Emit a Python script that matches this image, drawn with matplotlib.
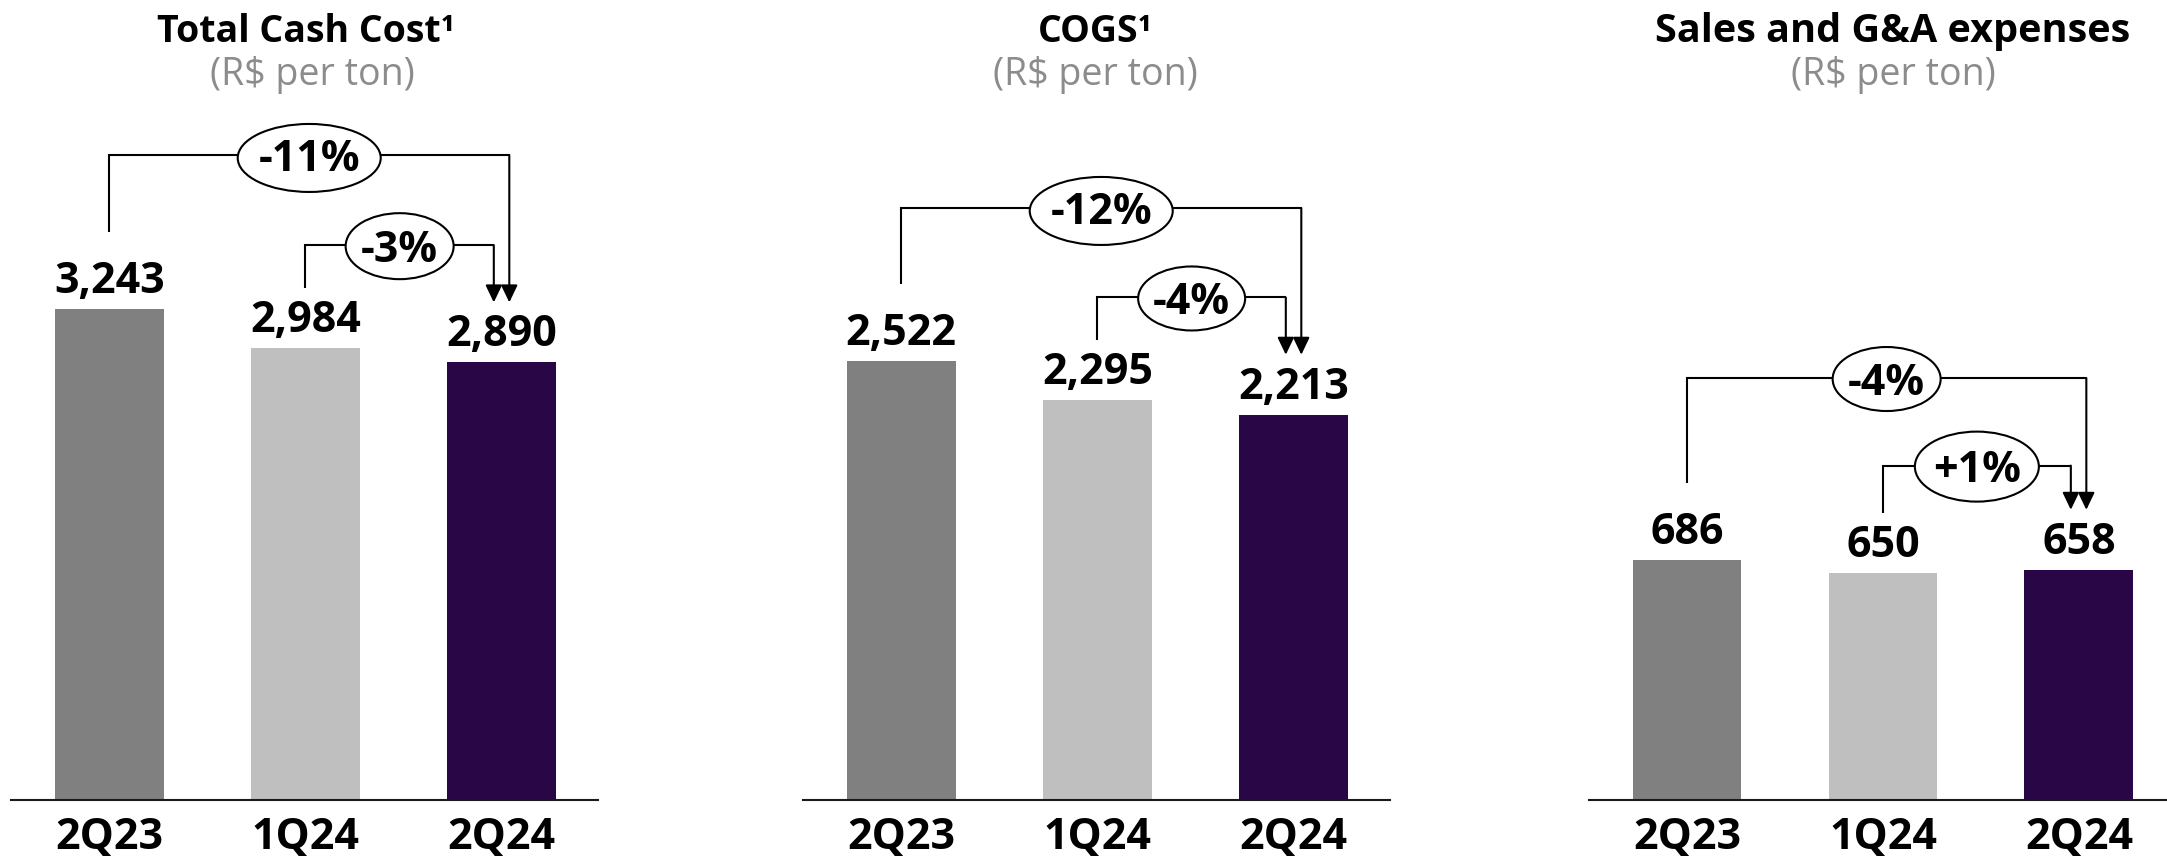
import matplotlib.pyplot as plt
import matplotlib.transforms as mtransforms
from matplotlib.patches import Ellipse

plt.rcParams['font.family'] = ['Open Sans', 'DejaVu Sans']

# quarterly unit costs (R$ per ton)
periods = ['2Q23', '1Q24', '2Q24']
total_cash_cost = [3243, 2984, 2890]
cogs = [2522, 2295, 2213]
sales_ga = [686, 650, 658]

titles = ['Total Cash Cost¹', 'COGS¹', 'Sales and G&A expenses']
unit_label = '(R$ per ton)'

# change of 2Q24 vs 2Q23 (outer bracket) and vs 1Q24 (inner bracket)
yoy_change = ['-11%', '-12%', '-4%']
qoq_change = ['-3%', '-4%', '+1%']

bar_colors = ['#808080', '#bfbfbf', '#290746']

W, H = 2167, 858
BASE = 800      # baseline, pixels from top
AX_H = 700      # axes height in pixels
LABEL_SIZE = 31

# layout for each panel (pixels); ellipse = (width, height, shift down)
layout = [
    dict(left=11, right=598, xmax=2.49, ymax=4623, title_x=306, title_size=27, sub_x=312,
         outer_lift=154, inner_lift=103, outer_box=(143, 68, 3), inner_box=(108, 66, 1)),
    dict(left=803, right=1390, xmax=2.49, ymax=4021, title_x=1095, title_size=27, sub_x=1095,
         outer_lift=153, inner_lift=103, outer_box=(143, 68, 3), inner_box=(107, 64, 1)),
    dict(left=1589, right=2167, xmax=2.45, ymax=2001, title_x=1893, title_size=28.5, sub_x=1893,
         outer_lift=182, inner_lift=107, outer_box=(108, 64, 1), inner_box=(124, 70, 1)),
]

fig = plt.figure(figsize=(W / 100, H / 100), dpi=100)


def add_change(ax, x0, y0, x1, y_level, y_tip, label, box):
    ax.plot([x0, x0, x1], [y0, y_level, y_level], color='black', lw=1.5,
            clip_on=False, solid_capstyle='butt', solid_joinstyle='miter', zorder=3)
    ax.annotate('', xy=(x1, y_tip), xytext=(x1, y_level),
                arrowprops=dict(arrowstyle='-|>,head_length=0.75,head_width=0.36',
                                color='black', lw=1.5, shrinkA=0, shrinkB=0,
                                mutation_scale=14),
                annotation_clip=False, zorder=3)
    xc = (x0 + x1) / 2
    w, h, dy = box
    tr = mtransforms.Affine2D().translate(0, -dy) + \
        mtransforms.ScaledTranslation(xc, y_level, ax.transData)
    ax.add_patch(Ellipse((0, 0), w, h, transform=tr, facecolor='white',
                         edgecolor='black', lw=1.5, clip_on=False, zorder=4))
    ax.text(xc, y_level, label, ha='center', va='center_baseline',
            fontsize=LABEL_SIZE, fontweight='bold', zorder=5)


for values, title, yoy, qoq, lay in zip([total_cash_cost, cogs, sales_ga], titles,
                                        yoy_change, qoq_change, layout):
    ax = fig.add_axes([lay['left'] / W, (H - BASE) / H,
                       (lay['right'] - lay['left']) / W, AX_H / H])
    x = list(range(len(periods)))
    ax.bar(x, values, width=0.555, color=bar_colors, zorder=2)
    ax.set_xlim(-0.5, lay['xmax'])
    ax.set_ylim(0, lay['ymax'])
    ax.set_xticks([])
    ax.set_yticks([])
    for side in ['top', 'left', 'right']:
        ax.spines[side].set_visible(False)
    ax.spines['bottom'].set_linewidth(1.5)
    ax.spines['bottom'].set_color('#1a1a1a')
    ax.patch.set_alpha(0)

    for i, v in enumerate(values):
        ax.annotate(f'{v:,}', (i, v), xytext=(0, 16), textcoords='offset pixels',
                    ha='center', va='baseline', fontsize=LABEL_SIZE, fontweight='bold')
        ax.annotate(periods[i], (i, 0), xytext=(0, -49), textcoords='offset pixels',
                    ha='center', va='baseline', fontsize=LABEL_SIZE, fontweight='bold',
                    annotation_clip=False)

    # pixel -> data conversions
    ypx = lay['ymax'] / AX_H
    xpx = (lay['xmax'] + 0.5) / (lay['right'] - lay['left'])

    # 2Q23 -> 2Q24
    add_change(ax, 0, values[0] + 77 * ypx, 2 + 7.5 * xpx,
               values[0] + lay['outer_lift'] * ypx, values[2] + 60 * ypx,
               yoy, lay['outer_box'])
    # 1Q24 -> 2Q24
    add_change(ax, 1, values[1] + 60 * ypx, 2 - 8 * xpx,
               values[1] + lay['inner_lift'] * ypx, values[2] + 60 * ypx,
               qoq, lay['inner_box'])

    fig.text(lay['title_x'] / W, 1 - 42 / H, title, ha='center', va='baseline',
             fontsize=lay['title_size'], fontweight='bold')
    fig.text(lay['sub_x'] / W, 1 - 85 / H, unit_label, ha='center', va='baseline',
             fontsize=27, color='#8c8c8c')

fig.savefig('out.png', dpi=100, facecolor='white')
